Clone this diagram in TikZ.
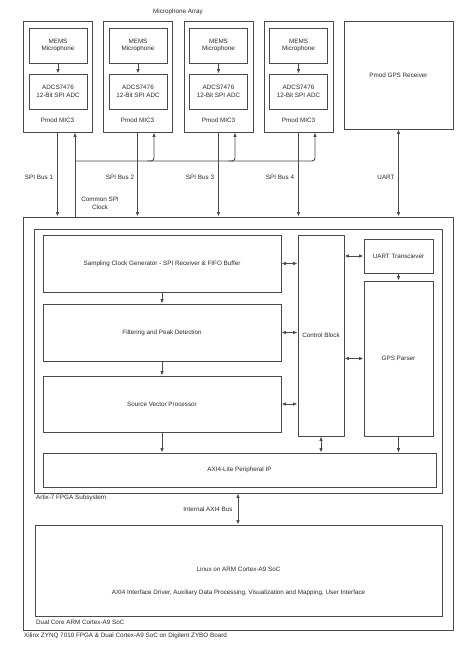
\documentclass[tikz,border=0pt]{standalone}
\usepackage{fontspec}
\setmainfont{Liberation Sans}
\usetikzlibrary{arrows.meta}
\definecolor{linegray}{RGB}{75,75,75}
\definecolor{textgray}{RGB}{40,40,40}
\begin{document}
\begin{tikzpicture}[x=1pt,y=-1pt,
    font=\fontsize{6.3}{7.6}\selectfont, text=textgray,
    arr/.style={-{Latex[length=4.5pt,width=3.6pt]}},
    darr/.style={{Latex[length=4.5pt,width=3.6pt]}-{Latex[length=4.5pt,width=3.6pt]}}]
    \useasboundingbox (0,0) rectangle (474,670);
    % microphone array and GPS receiver
    \begin{scope}[every node/.style={rectangle,draw=linegray,line width=0.9pt,inner sep=0pt,align=center}]
        \node[minimum width=69,minimum height=111] (mic1) at (57.5,76.5) {};
        \node[minimum width=69,minimum height=111] (mic2) at (137.5,76.5) {};
        \node[minimum width=69,minimum height=111] (mic3) at (218.5,76.5) {};
        \node[minimum width=69,minimum height=111] (mic4) at (298.5,76.5) {};
        \node[minimum width=58,minimum height=35] (mems1) at (58,45.5) {MEMS\\Microphone};
        \node[minimum width=58,minimum height=35] (mems2) at (138,45.5) {MEMS\\Microphone};
        \node[minimum width=58,minimum height=35] (mems3) at (218.5,45.5) {MEMS\\Microphone};
        \node[minimum width=58,minimum height=35] (mems4) at (298.5,45.5) {MEMS\\Microphone};
        \node[minimum width=58,minimum height=35] (adc1) at (58,91.5) {ADCS7476\\12-Bit SPI ADC};
        \node[minimum width=58,minimum height=35] (adc2) at (138,91.5) {ADCS7476\\12-Bit SPI ADC};
        \node[minimum width=58,minimum height=35] (adc3) at (218.5,91.5) {ADCS7476\\12-Bit SPI ADC};
        \node[minimum width=58,minimum height=35] (adc4) at (298.5,91.5) {ADCS7476\\12-Bit SPI ADC};
        \node[minimum width=109,minimum height=108] (gpsrx) at (398.5,75) {Pmod GPS Receiver};
    \end{scope}
    % ZYNQ board blocks
    \begin{scope}[every node/.style={rectangle,draw=linegray,line width=0.9pt,inner sep=0pt,align=center}]
        \node[minimum width=430,minimum height=413] (zynq) at (238,423.5) {};
        \node[minimum width=408,minimum height=264] (fpga) at (238,361) {};
        \node[minimum width=238,minimum height=57] (sampling) at (162,263.5) {Sampling Clock Generator - SPI Receiver \& FIFO Buffer};
        \node[minimum width=238,minimum height=57] (filter) at (162,332.5) {Filtering and Peak Detection};
        \node[minimum width=238,minimum height=56] (srcvec) at (162,404) {Source Vector Processor};
        \node[minimum width=46,minimum height=201] (control) at (321,335.5) {Control Block};
        \node[minimum width=69,minimum height=34] (uart) at (398.5,256) {UART Transciever};
        \node[minimum width=69,minimum height=155] (gpsparse) at (398.5,358.5) {GPS Parser};
        \node[minimum width=393,minimum height=34] (axi) at (239.5,470) {AXI4-Lite Peripheral IP};
        \node[minimum width=407,minimum height=91] (arm) at (238.5,570.5) {};
    \end{scope}
    % plain labels
    \begin{scope}[every node/.style={inner sep=0pt,align=center}]
        \node (arraylbl) at (178,12) {Microphone Array};
        \node (pmod1) at (57.5,120) {Pmod MIC3};
        \node (pmod2) at (137.5,120) {Pmod MIC3};
        \node (pmod3) at (218.5,120) {Pmod MIC3};
        \node (pmod4) at (298.5,120) {Pmod MIC3};
        \node (spi1) at (39,177) {SPI Bus 1};
        \node (spi2) at (120,177) {SPI Bus 2};
        \node (spi3) at (200,177) {SPI Bus 3};
        \node (spi4) at (280,177) {SPI Bus 4};
        \node (uartlbl) at (386,177) {UART};
        \node (clklbl) at (100,203.5) {Common SPI\\Clock};
        \node[anchor=west] (fpgalbl) at (36,498) {Artix-7 FPGA Subsystem};
        \node (axibuslbl) at (208,509) {Internal AXI4 Bus};
        \node (linux) at (238.5,569) {Linux on ARM Cortex-A9 SoC};
        \node (driver) at (238.5,593) {AXI4 Interface Driver, Auxiliary Data Processing, Visualization and Mapping, User Interface};
        \node[anchor=west] (armlbl) at (36,622) {Dual Core ARM Cortex-A9 SoC};
        \node[anchor=west] (zynqlbl) at (24,636) {Xilinx ZYNQ 7010 FPGA \& Dual Cortex-A9 SoC on Digilent ZYBO Board};
    \end{scope}
    \coordinate (clkbus) at (75,161);
    % connectors
    \begin{scope}[every edge/.style={draw=linegray,line width=0.9pt}]
        \path
            (mems1) edge[arr] (adc1)
            (mems2) edge[arr] (adc2)
            (mems3) edge[arr] (adc3)
            (mems4) edge[arr] (adc4)
            (mic1.south) edge[arr] (mic1.south |- zynq.north)
            (mic2.south) edge[arr] (mic2.south |- zynq.north)
            (mic3.south) edge[arr] (mic3.south |- zynq.north)
            (mic4.south) edge[arr] (mic4.south |- zynq.north)
            (gpsrx.south) edge[darr] (gpsrx.south |- zynq.north)
            (clkbus |- zynq.north) edge[arr] (clkbus |- mic1.south)
            (sampling) edge[arr] (filter)
            (filter) edge[arr] (srcvec)
            (srcvec.south) edge[arr] (srcvec.south |- axi.north)
            (control.south) edge[darr] (control.south |- axi.north)
            (gpsparse.south) edge[arr] (gpsparse.south |- axi.north)
            (uart) edge[arr] (gpsparse)
            (sampling.east) edge[darr] (sampling.east -| control.west)
            (filter.east) edge[darr] (filter.east -| control.west)
            (srcvec.east) edge[darr] (srcvec.east -| control.west)
            (uart.west -| control.east) edge[darr] (uart.west)
            (gpsparse.west -| control.east) edge[darr] (gpsparse.west)
            (fpga.south) edge[darr] (fpga.south |- arm.north);
    \end{scope}
    % common clock bus
    \begin{scope}[draw=linegray,line width=0.9pt,rounded corners=3pt]
        \draw[arr] (clkbus) -| ([xshift=16.5]mic4.south);
        \draw[arr] ([xshift=10]clkbus -| mic2.south) -| ([xshift=16.5]mic2.south);
        \draw[arr] ([xshift=10]clkbus -| mic3.south) -| ([xshift=16.5]mic3.south);
    \end{scope}
\end{tikzpicture}
\end{document}
